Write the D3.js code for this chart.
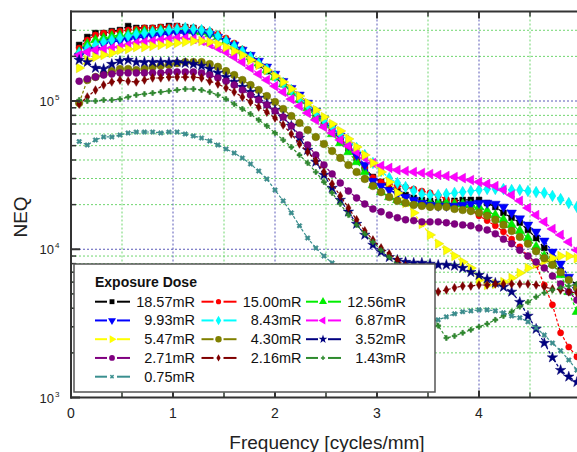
<!DOCTYPE html>
<html><head><meta charset="utf-8">
<script src="https://cdn.jsdelivr.net/npm/d3@7"></script>
<style>body{margin:0;background:#fff;} svg{display:block;font-family:Arial,"Liberation Sans",sans-serif;}</style>
</head><body><svg id="c" width="577" height="452"></svg>
<script>
// ---- data (NEQ values in thousands) ----
const frequency = [0.08,0.16,0.24,0.32,0.40,0.48,0.56,0.64,0.72,0.80,0.88,0.96,1.04,1.12,1.20,1.28,1.36,1.44,1.52,1.60,1.68,1.76,1.84,1.92,2.00,2.08,2.16,2.24,2.32,2.40,2.48,2.56,2.64,2.72,2.80,2.88,2.96,3.04,3.12,3.20,3.28,3.36,3.44,3.52,3.60,3.68,3.76,3.84,3.92,4.00,4.08,4.16,4.24,4.32,4.40,4.48,4.56,4.64,4.72,4.80,4.88,4.96];
const doseLabels = ["18.57mR","15.00mR","12.56mR","9.93mR","8.43mR","6.87mR","5.47mR","4.30mR","3.52mR","2.71mR","2.16mR","1.43mR","0.75mR"];
const neq_18_57 = [238.6,270,287,287,296,301,320,311,311,311,315,320,320,315,311,301,292,274,254,231,211,192,175,159,145,130,117,103,91,80.5,71,63,54.6,47.8,41.3,35.4,30.7,28.4,26.3,24.7,23.2,22.2,21.5,21.2,20.8,20.8,21.2,21.5,21.5,21.5,20.5,19.3,17.6,16.3,15.1,13.5,11.9,10.2,8.2,7.2,6.4,5.7];
const neq_15_00 = [227.7,258,279,287,292,296,301,306,311,311,315,315,320,315,311,306,296,283,266,246,224,204,186,170,152,136,122,108,95.4,84,74.5,65.8,56.3,48.9,41.9,35.4,30.4,28.4,27.6,26.7,26.3,25.5,24.7,24.0,22.9,21.8,20.8,19.9,18.4,16.8,15.6,14.4,13.1,11.7,10.4,9.0,7.84,5.74,4.22,2.73,2.19,1.88];
const neq_12_56 = [214,242,258,266,274,279,283,292,296,296,301,301,301,301,296,292,283,270,254,235,217,198,180,162,145,130,115,101.6,89.7,78,68.9,59.9,52.1,45.3,38.8,33.2,27.1,24.3,22.5,21.5,20.8,20.5,20.5,20.5,20.5,20.5,20.2,20.2,19.9,19.3,18.1,17.0,15.8,14.6,13.3,11.9,10.4,9.0,7.97,6.7,5.16,3.79];
const neq_9_93 = [201,221,221,242,250,254,258,266,270,274,279,283,287,287,292,292,283,270,254,239,221,204,186,170,152,136,122,110,97,85.6,75.6,66.8,58.1,50.5,43.2,37,28.8,26.7,25.1,23.6,22.5,21.5,20.5,19.9,19.6,19.6,19.6,19.9,20.2,20.5,20.5,20.2,19.3,17.6,16.1,14.6,13.1,11.4,9.6,7.97,6.5,5.32];
const neq_8_43 = [210.7,227.7,238.6,250,258,266,274,283,287,292,296,301,306,311,306,301,292,274,254,235,217,198,180,164.5,147.4,132.3,118.6,104.8,94,84,74.5,66.8,59.9,53.8,48.2,43.2,38.2,33.7,30.2,28,26.3,24.7,23.6,23.2,23.2,23.6,24.0,24.3,24.7,25.1,25.5,25.5,25.5,25.1,25.1,24.7,24.3,24.0,22.9,21.8,20.5,19.3];
const neq_6_87 = [204.3,214,220.8,224,227.7,231,238.6,246,250,254,258,262,266,266,262,254,242,227.7,214,198,183,167,152,138.5,126,115,103,92.5,83,74.5,66.8,60.9,54.6,49.7,45.3,41.3,38.2,36.5,35.4,34.2,33.7,33.2,32.7,32.2,31.7,31.2,30.7,30.2,29.3,28.4,27.6,26.7,25.1,23.2,21.2,19.0,17.0,15.3,13.7,12.5,11.2,9.86];
const neq_5_47 = [167,189,198,204.3,210.7,220.8,224,231,231,235,238.6,242,246,250,254,254,250,242,231,217,204.3,189,175,161.8,147.4,134.4,120.5,108,97,87,78,70,62.8,55.5,48.9,43.2,38.2,33.2,28.4,24.0,20.5,17.6,14.8,12.5,10.9,9.86,9.0,8.2,7.47,6.2,5.74,5.83,6.0,6.4,6.92,7.47,7.97,8.34,8.7,9.0,9.0,8.7];
const neq_4_30 = [97,138.5,145,152,159,164.5,164.5,161.8,164.5,170,172.6,175,180,183,183,183,177.5,170,159,149.7,138.5,128.2,118.6,108,98.5,88.3,79.2,71.1,63.7,57.2,51.3,46,41.3,37,33.2,29.8,26.7,24.3,22.5,21.2,20.5,19.9,19.6,19.3,19.3,19.3,18.7,18.4,18.1,17.6,16.8,15.8,14.6,13.3,12.1,10.9,9.7,8.7,7.84,7.0,6.2,5.5];
const neq_3_52 = [189,183,167,164.5,177.5,186,189,183,183,183,183,183,183,180,177.5,172.6,164.5,154.7,145,134.4,124.2,115,104.8,95.4,87,78,67.9,56.3,46.7,38.8,31.7,25.9,21.5,17.9,14.8,12.5,10.7,9.6,8.84,8.47,8.2,8.09,8.09,7.97,7.84,7.84,7.72,7.47,7.0,6.7,6.3,5.93,5.57,5.16,4.4,3.55,2.9,2.33,1.86,1.53,1.38,1.27];
const neq_2_71 = [136,141,145,149.7,152,154.7,154.7,154.7,154.7,154.7,154.7,156.9,156.9,156.9,156.9,154.7,149.7,143,136,128.2,118.6,109.8,101.6,94,85.6,78,67.9,59,50.5,43.2,37,32.2,28,24.7,22.2,20.2,18.7,17.9,17.0,16.3,15.8,15.6,15.3,15.3,15.3,15.1,14.8,14.6,14.4,13.9,13.5,12.7,11.7,10.9,9.86,9.0,8.2,7.47,6.6,5.83,5.16,4.55];
const neq_2_16 = [95.4,106.4,118.6,128.2,134.4,138.5,136,134.4,138.5,143,143,145,145,145,145,143,136,130.2,122.4,115,106.4,98.5,91.1,84,76.8,68.9,59.9,51.3,45.3,39.4,33.2,27.6,22.9,19.0,15.8,13.3,11.55,10.2,9.3,8.47,7.72,6.92,6.1,5.5,5.16,5.32,5.5,5.65,5.65,5.74,5.74,5.83,5.83,5.83,5.83,5.83,5.74,5.57,5.4,5.32,5.16,5.08];
const neq_1_43 = [101.6,100,100,101.6,101.6,103,106.4,109.8,111.5,113.2,115,116.8,118.6,120.5,120.5,118.6,115,109.8,103,95.4,88.3,81.7,74.5,67.9,60.9,54.6,48.9,43.2,38.2,33.2,28.4,24.0,20.2,17.0,14.6,12.7,11.2,9.86,8.84,7.84,6.92,5.93,4.92,3.9,3.05,2.52,2.6,2.73,2.86,3.0,3.14,3.34,3.55,3.79,4.1,4.4,4.77,5.08,5.32,5.5,5.65,5.83];
const neq_0_75 = [53.3,50.5,54.6,57.2,57.2,59,60.9,61.8,61.8,61.8,60.9,61.8,61.8,59.9,58.1,56.3,53.8,50.5,47.5,44.6,41.3,37.6,33.7,29.8,25.1,21.2,17.6,14.4,11.9,10.2,9.0,8.09,7.24,6.5,5.83,5.24,4.7,4.28,3.9,3.61,3.4,3.24,3.19,3.24,3.34,3.5,3.67,3.79,3.84,3.9,3.9,3.84,3.73,3.55,3.45,3.24,2.95,2.64,2.33,2.07,1.79,1.53];
const seriesValues = [neq_18_57,neq_15_00,neq_12_56,neq_9_93,neq_8_43,neq_6_87,neq_5_47,neq_4_30,neq_3_52,neq_2_71,neq_2_16,neq_1_43,neq_0_75];
const xTickLabels = ["0","1","2","3","4"];
const yDecadeExponents = ["3","4","5"];

// ---- styles ----
const colors = ["#000000","#ff0000","#00ee00","#0000ff","#00ffff","#ff00ff","#ffff00","#808000","#000080","#800080","#800000","#2e8b2e","#3a8f8f"];
const shapes = ["square","circle","tri","tridown","diamond","trileft","triright","bigcircle","star","hex","smalldiamond","plus","times"];

const svg = d3.select("#c");
const L = 71, T = 11.5, B = 397.5, Rclip = 577;
const x = d3.scaleLinear().domain([0, 5]).range([L, L + 510]);
const y = d3.scaleLog().domain([1000, 400000]).range([B, 11.75]);

// grid
const gGrid = svg.append("g");
const minorY = [], majorY = [1e3, 1e4, 1e5];
[1e3, 1e4, 1e5].forEach(d => { for (let k = 2; k <= 9; k++) if (d * k < 400000) minorY.push(d * k); });
gGrid.selectAll(".hm").data(minorY).join("line")
  .attr("x1", L).attr("x2", Rclip).attr("y1", d => y(d)).attr("y2", d => y(d))
  .attr("stroke", "#6fd66f").attr("stroke-width", 1).attr("stroke-dasharray", "2,2");
gGrid.selectAll(".hM").data(majorY.slice(1)).join("line")
  .attr("x1", L).attr("x2", Rclip).attr("y1", d => y(d)).attr("y2", d => y(d))
  .attr("stroke", "#5a5ab8").attr("stroke-width", 1).attr("stroke-dasharray", "2,2");
const vHalf = [0.5, 1.5, 2.5, 3.5, 4.5], vInt = [1, 2, 3, 4];
gGrid.selectAll(".vm").data(vHalf).join("line")
  .attr("x1", d => x(d)).attr("x2", d => x(d)).attr("y1", T).attr("y2", B)
  .attr("stroke", "#6fd66f").attr("stroke-width", 1).attr("stroke-dasharray", "2,2");
gGrid.selectAll(".vM").data(vInt).join("line")
  .attr("x1", d => x(d)).attr("x2", d => x(d)).attr("y1", T).attr("y2", B)
  .attr("stroke", "#5a5ab8").attr("stroke-width", 1).attr("stroke-dasharray", "2,2");

// symbols
function symPath(shape, s) {
  const sym = d3.symbol();
  switch (shape) {
    case "square": return sym.type(d3.symbolSquare).size(34 * s)();
    case "circle": return sym.type(d3.symbolCircle).size(30 * s)();
    case "bigcircle": return sym.type(d3.symbolCircle).size(46 * s)();
    case "hex": return sym.type(d3.symbolCircle).size(38 * s)();
    case "tri": case "tridown": case "trileft": case "triright": return sym.type(d3.symbolTriangle).size(40 * s)();
    case "diamond": return sym.type(d3.symbolDiamond).size(38 * s)();
    case "smalldiamond": return sym.type(d3.symbolDiamond).size(22 * s)();
    case "star": return sym.type(d3.symbolStar).size(34 * s)();
    case "plus": return sym.type(d3.symbolCross).size(14 * s)();
    case "times": return sym.type(d3.symbolCross).size(16 * s)();
  }
}
function symRot(shape) {
  return {tridown: 180, trileft: -90, triright: 90, times: 45}[shape] || 0;
}

// series
const gSeries = svg.append("g");
const line = d3.line().x(d => x(d[0])).y(d => y(d[1] * 1000));
seriesValues.forEach((vals, si) => {
  const pts = frequency.map((f, i) => [f, vals[i]]);
  const g = gSeries.append("g");
  g.append("path").attr("d", line(pts)).attr("fill", "none")
    .attr("stroke", colors[si]).attr("stroke-width", 1.2).attr("stroke-dasharray", "3,2");
  g.selectAll("path.m").data(pts).join("path").attr("class", "m")
    .attr("d", symPath(shapes[si], 1))
    .attr("transform", d => `translate(${x(d[0])},${y(d[1] * 1000)}) rotate(${symRot(shapes[si])})`)
    .attr("fill", colors[si]).attr("stroke", d3.color(colors[si]).darker(0.4)).attr("stroke-width", 0.5);
});

// axes frame
const gAx = svg.append("g");
gAx.append("line").attr("x1", L).attr("x2", L).attr("y1", T - 1).attr("y2", B + 1).attr("stroke", "#333").attr("stroke-width", 2);
gAx.append("line").attr("x1", L - 1).attr("x2", Rclip).attr("y1", B).attr("y2", B).attr("stroke", "#333").attr("stroke-width", 2);
gAx.append("line").attr("x1", L - 1).attr("x2", Rclip).attr("y1", T).attr("y2", T).attr("stroke", "#333").attr("stroke-width", 2);
// y ticks
gAx.selectAll(".ytm").data(minorY).join("line").attr("x1", L).attr("x2", L + 5).attr("y1", d => y(d)).attr("y2", d => y(d)).attr("stroke", "#333").attr("stroke-width", 1.5);
gAx.selectAll(".ytM").data(majorY).join("line").attr("x1", L).attr("x2", L + 9).attr("y1", d => y(d)).attr("y2", d => y(d)).attr("stroke", "#333").attr("stroke-width", 2);
// x ticks bottom/top
const xt = d3.range(0, 5.01, 0.5);
gAx.selectAll(".xtb").data(xt).join("line").attr("x1", d => x(d)).attr("x2", d => x(d)).attr("y1", B).attr("y2", d => B - (d % 1 === 0 ? 7 : 5)).attr("stroke", "#333").attr("stroke-width", d => d % 1 === 0 ? 2 : 1.5);
gAx.selectAll(".xtt").data(xt).join("line").attr("x1", d => x(d)).attr("x2", d => x(d)).attr("y1", T).attr("y2", d => T + (d % 1 === 0 ? 7 : 5)).attr("stroke", "#333").attr("stroke-width", d => d % 1 === 0 ? 2 : 1.5);

// tick labels
gAx.selectAll(".xl").data(xTickLabels).join("text")
  .attr("x", (d, i) => x(i)).attr("y", 418).attr("text-anchor", "middle")
  .attr("font-size", 14).attr("fill", "#222").text(d => d);
yDecadeExponents.forEach((e, i) => {
  const yy = y(Math.pow(10, +e));
  gAx.append("text").attr("x", 54).attr("y", yy + 5).attr("text-anchor", "end").attr("font-size", 13).attr("fill", "#222").text("10");
  gAx.append("text").attr("x", 55).attr("y", yy - 1).attr("font-size", 8).attr("fill", "#222").text(e);
});
svg.append("text").attr("x", 327).attr("y", 449).attr("text-anchor", "middle").attr("font-size", 19).attr("fill", "#222").text("Frequency [cycles/mm]");
svg.append("text").attr("transform", "translate(27,217) rotate(-90)").attr("text-anchor", "middle").attr("font-size", 19).attr("fill", "#222").text("NEQ");

// legend
const lg = svg.append("g");
lg.append("rect").attr("x", 74).attr("y", 264).attr("width", 361).attr("height", 128).attr("fill", "#fff").attr("stroke", "#555").attr("stroke-width", 1.5);
lg.append("text").attr("x", 95).attr("y", 286.5).attr("font-size", 14).attr("font-weight", "bold").attr("fill", "#111").text("Exposure Dose");
const colLine = [95, 201.5, 306], colText = [195, 301.5, 406];
doseLabels.forEach((lab, i) => {
  const c = i % 3, r = Math.floor(i / 3);
  const cy = 301.7 + r * 18.75;
  const x0 = colLine[c], x1 = x0 + 35, xm = x0 + 17;
  lg.append("line").attr("x1", x0).attr("x2", xm - 5).attr("y1", cy).attr("y2", cy).attr("stroke", colors[i]).attr("stroke-width", 2);
  lg.append("line").attr("x1", xm + 5).attr("x2", x1).attr("y1", cy).attr("y2", cy).attr("stroke", colors[i]).attr("stroke-width", 2);
  lg.append("path").attr("d", symPath(shapes[i], 0.7)).attr("transform", `translate(${xm},${cy}) rotate(${symRot(shapes[i])})`).attr("fill", colors[i]);
  lg.append("text").attr("x", colText[c]).attr("y", cy + 5).attr("text-anchor", "end").attr("font-size", 14.5).attr("fill", "#111").text(lab);
});
</script></body></html>
